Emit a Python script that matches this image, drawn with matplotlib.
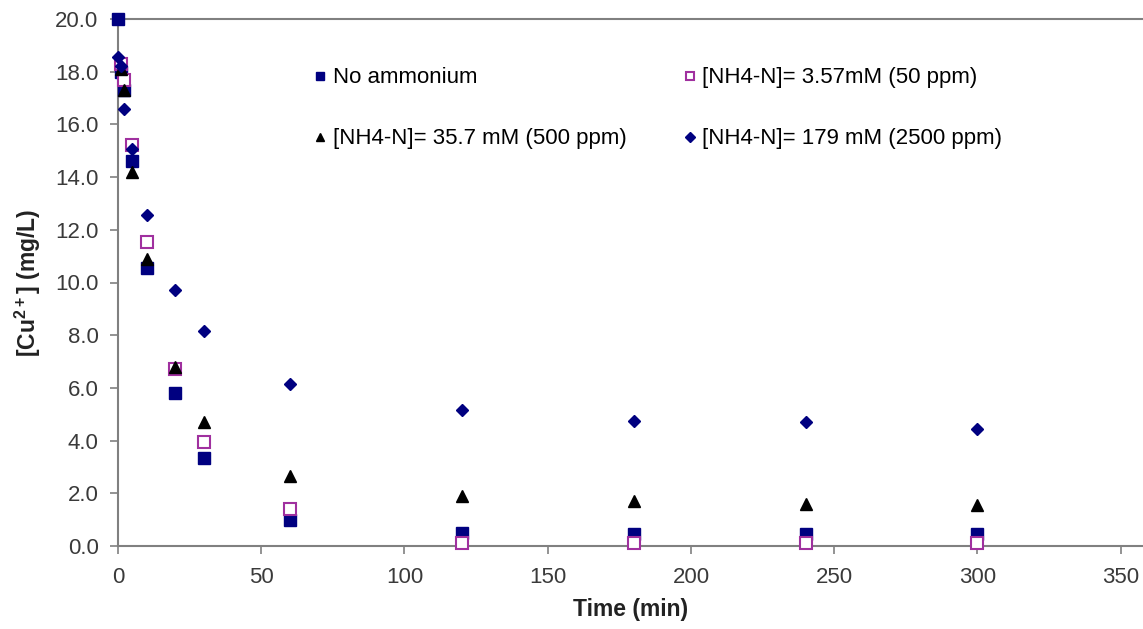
import matplotlib
matplotlib.use("Agg")
import matplotlib.pyplot as plt

plt.rcParams['font.family'] = ['Liberation Sans', 'DejaVu Sans']
plt.rcParams['mathtext.fontset'] = 'custom'
plt.rcParams['mathtext.rm'] = 'Liberation Sans'
plt.rcParams['mathtext.bf'] = 'Liberation Sans:bold'

# time points (min)
time = [0, 1, 2, 5, 10, 20, 30, 60, 120, 180, 240, 300]
time_b = [1, 2, 5, 10, 20, 30, 60, 120, 180, 240, 300]

# [Cu2+] (mg/L)
no_ammonium = [20.0, 18.0, 17.3, 14.6, 10.55, 5.8, 3.35, 1.0, 0.5, 0.45, 0.45, 0.45]
nh4_50ppm = [18.3, 17.7, 15.2, 11.55, 6.7, 3.95, 1.4, 0.1, 0.1, 0.1, 0.1]
nh4_500ppm = [18.1, 17.3, 14.2, 10.9, 6.8, 4.7, 2.65, 1.88, 1.7, 1.6, 1.55]
nh4_2500ppm = [18.55, 18.2, 16.6, 15.05, 12.55, 9.7, 8.15, 6.15, 5.15, 4.75, 4.72, 4.45]

labels = ["No ammonium", "[NH4-N]= 3.57mM (50 ppm)",
          "[NH4-N]= 35.7 mM (500 ppm)", "[NH4-N]= 179 mM (2500 ppm)"]

fig = plt.figure(figsize=(11.43, 6.29), dpi=100)
ax = fig.add_axes([118 / 1143, 1 - 546 / 629, 1 - 118 / 1143, (546 - 19) / 629])

h1, = ax.plot(time, no_ammonium, ls='none', marker='s', ms=8, color='#000080', clip_on=False, zorder=3)
h2, = ax.plot(time_b, nh4_50ppm, ls='none', marker='s', ms=8, mfc='white', mec='#A0309F',
              mew=1.5, clip_on=False, zorder=3)
h3, = ax.plot(time_b, nh4_500ppm, ls='none', marker='^', ms=8, color='black', clip_on=False, zorder=4)
h4, = ax.plot(time, nh4_2500ppm, ls='none', marker='D', ms=6.5, color='#000080', clip_on=False, zorder=5)

ax.set_xlim(0, 357.8)
ax.set_ylim(0, 20)
ax.set_xticks(range(0, 351, 50))
ax.set_yticks([i * 2 for i in range(11)])
ax.set_yticklabels([f"{i * 2:.1f}" for i in range(11)])

for s in ['left', 'bottom', 'top']:
    ax.spines[s].set_color('#808080')
    ax.spines[s].set_linewidth(1.5)
ax.spines['right'].set_visible(False)
ax.tick_params(axis='both', colors='#808080', labelcolor='#3a3a3a', labelsize=16,
               length=6, width=1.2)
ax.tick_params(axis='x', pad=9)
ax.tick_params(axis='y', pad=8)

ax.set_xlabel("Time (min)", fontsize=16.5, fontweight='bold', color='#222222', labelpad=7)
ax.set_ylabel(r"[Cu$^{\mathbf{2+}}$] (mg/L)", fontsize=16.5, fontweight='bold', color='#222222', labelpad=9)

ax.legend([h1, h3, h2, h4], [labels[0], labels[2], labels[1], labels[3]],
          ncol=2, frameon=False, loc='upper left', bbox_to_anchor=(0.178, 0.925),
          fontsize=16, handletextpad=0.05, columnspacing=2.35, labelspacing=1.8,
          markerscale=0.75, handlelength=1.0, borderaxespad=0)

fig.savefig("out.png", dpi=100)
